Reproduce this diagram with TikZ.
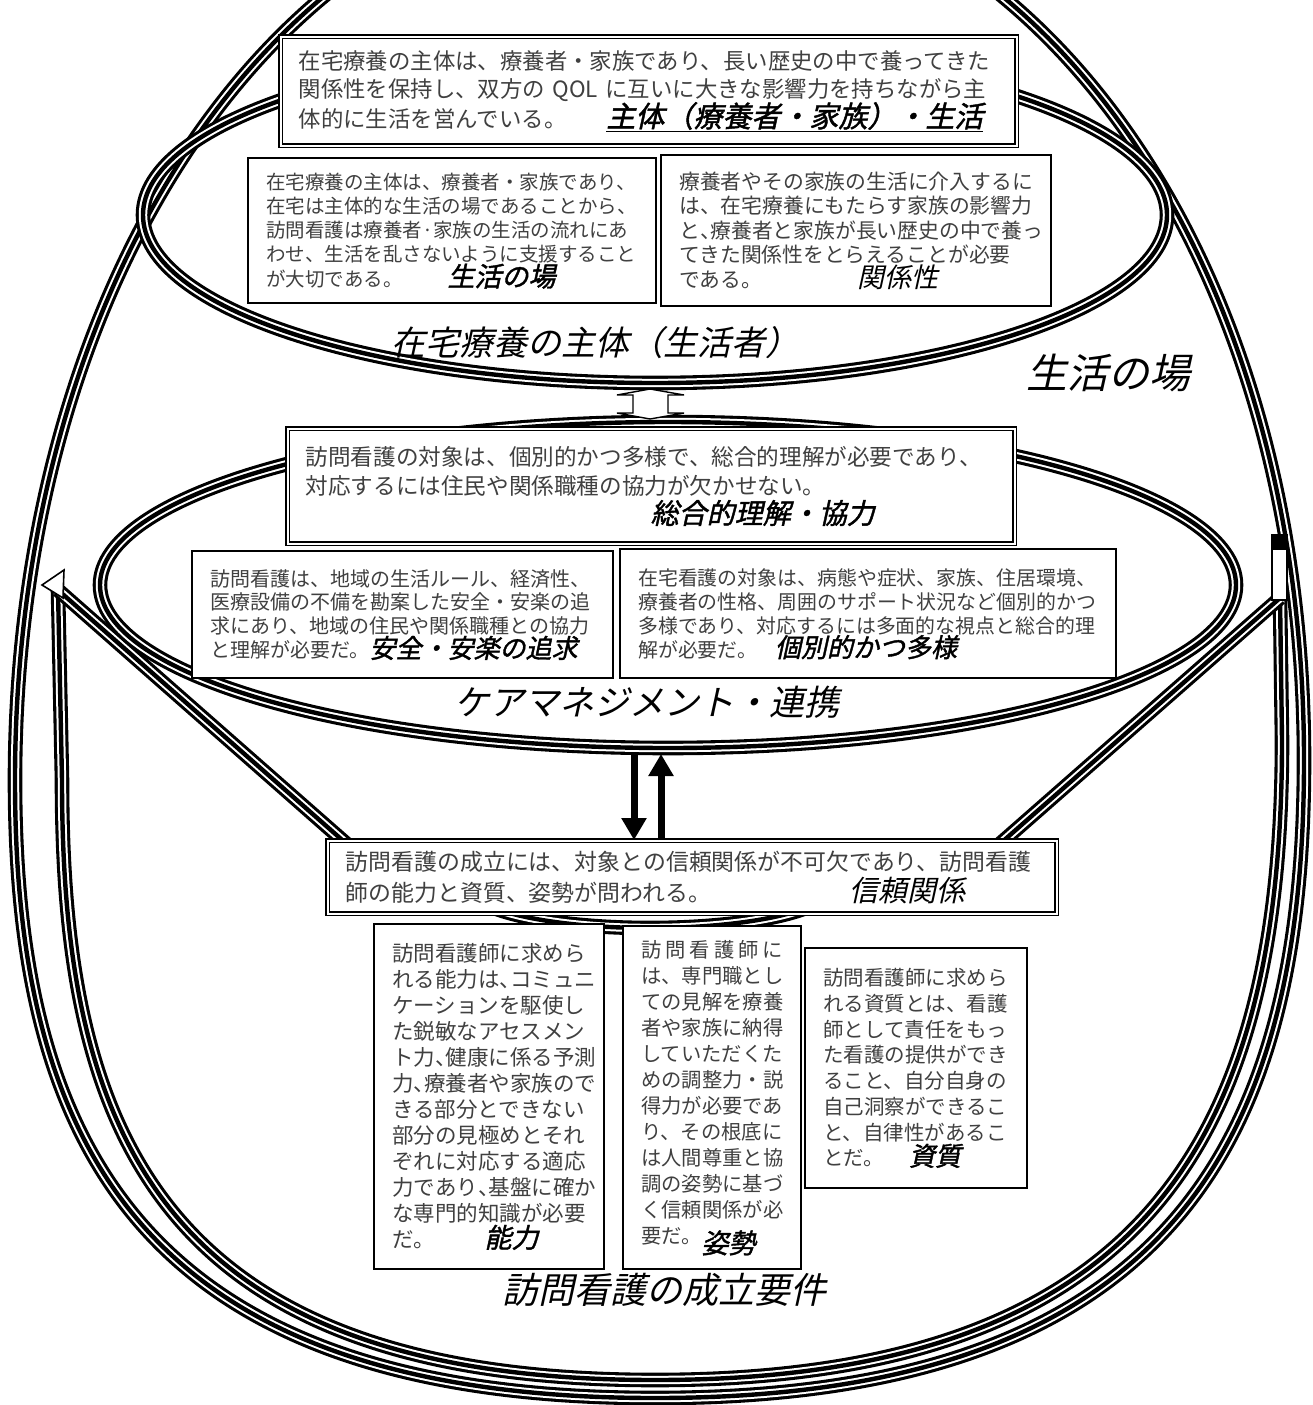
\documentclass[tikz,border=0pt]{standalone}
\usepackage{fontspec}
\usetikzlibrary{arrows.meta,backgrounds}

\newfontfamily\jpfont{Noto Sans CJK JP}
\newfontfamily\jpslant[FakeSlant=0.22]{Noto Sans CJK JP}
\newfontfamily\jpslantbold[FakeSlant=0.22,FakeBold=1.5]{Noto Sans CJK JP}

\NewDocumentCommand{\bodysize}{mm}{\jpfont\fontsize{#1}{#2}\selectfont}
\NewDocumentCommand{\boxtitle}{mO{\jpslantbold}m}{{#2\fontsize{#1}{#1}\selectfont\color{black}#3}}%chktex 1
\NewDocumentCommand{\halfcomma}{}{\makebox[0.5em][l]{、}}
\NewDocumentCommand{\carebox}{mmmmmO{boxframe}m}{%
\node[#6, text width=#4pt, minimum height=#5pt] (#1) at (#2,#3) {#7};%chktex 1
}

\tikzset{
  tripleline/.style={draw=white, line width=8.4pt,
    preaction={draw=black, line width=14.6pt},
    postaction={draw=black, line width=4.4pt}},
  boxframe/.style={draw=black, line width=2.4pt, fill=white, anchor=north west,
    align=left, inner xsep=18pt, inner ysep=0pt, text=black!75},
  dblframe/.style={boxframe, double=white, double distance=2pt, line width=1.5pt},
  bigarrow/.style={line width=7pt, -{Triangle[width=24pt,length=22pt]}},
  fieldtitle/.style={font=\jpslant\fontsize{#1}{#1}\selectfont, inner sep=0pt},
}

\begin{document}
\begin{tikzpicture}[x=1pt, y=-1pt]
        \useasboundingbox (0,0) rectangle (1313,1405);

        % Subject of home care.
        \carebox{shutai}{280}{36}{700}{109}[dblframe, font=\bodysize{22.4}{27.5}]{%
在宅療養の主体は、療養者・家族であり、長い歴史の中で養ってきた\\
関係性を保持し、双方の QOL に互いに大きな影響力を持ちながら主\\
体的に生活を営んでいる。\hspace{40pt}\boxtitle{29}{\underline{主体（療養者・家族）・生活}}}
        \carebox{basho}{247}{157}{372}{145}[boxframe, font=\bodysize{19.5}{24}]{%
在宅療養の主体は、療養者・家族であり、\\
在宅は主体的な生活の場であることから、\\
訪問看護は療養者·家族の生活の流れにあ\\
わせ、生活を乱さないように支援すること\\
が大切である。\hspace{45pt}\boxtitle{27}{生活の場}}
        \carebox{kankei}{660}{154}{354}{151}[boxframe, font=\bodysize{20.8}{24.5}]{%
療養者やその家族の生活に介入するに\\
は、在宅療養にもたらす家族の影響力\\
と\halfcomma 療養者と家族が長い歴史の中で養っ\\
てきた関係性をとらえることが必要\\
である。\hspace{95pt}\boxtitle{27}[\jpslant]{関係性}}

        % Care management.
        \carebox{sogo}{287}{428}{691}{115}[dblframe, font=\bodysize{22.6}{29}]{%
訪問看護の対象は、個別的かつ多様で、総合的理解が必要であり、\\
対応するには住民や関係職種の協力が欠かせない。\\
\hspace*{345pt}\boxtitle{28}{総合的理解・協力}}
        \carebox{anzen}{191}{550}{385}{127}[boxframe, font=\bodysize{20}{23.5}]{%
訪問看護は、地域の生活ルール、経済性、\\
医療設備の不備を勘案した安全・安楽の追\\
求にあり、地域の住民や関係職種との協力\\
と理解が必要だ。\boxtitle{26}{安全・安楽の追求}}
        \carebox{kobetsu}{619}{548}{460}{129}[boxframe, font=\bodysize{19.9}{24}]{%
在宅看護の対象は、病態や症状、家族、住居環境、\\
療養者の性格、周囲のサポート状況など個別的かつ\\
多様であり、対応するには多面的な視点と総合的理\\
解が必要だ。\hspace{18pt}\boxtitle{26}{個別的かつ多様}}

        % Requirements of visiting nursing.
        \carebox{shinrai}{327}{840}{693}{73}[dblframe, font=\bodysize{22.9}{31}]{%
訪問看護の成立には、対象との信頼関係が不可欠であり、訪問看護\\
師の能力と資質、姿勢が問われる。\hspace{138pt}\boxtitle{29}[\jpslant]{信頼関係}}
        \carebox{noryoku}{373}{923}{194}{345}[boxframe, font=\bodysize{21.5}{26}]{%
訪問看護師に求めら\\
れる能力は\halfcomma コミュニ\\
ケーションを駆使し\\
た鋭敏なアセスメン\\
ト力\halfcomma 健康に係る予測\\
力\halfcomma 療養者や家族ので\\
きる部分とできない\\
部分の見極めとそれ\\
ぞれに対応する適応\\
力であり\halfcomma 基盤に確か\\
な専門的知識が必要\\
だ。\hspace{50pt}\boxtitle{27}{能力}}
        \carebox{shisei}{622}{925}{142}{343}[boxframe, font=\bodysize{20.3}{26}]{%
\makebox[142pt][l]{訪\hfill 問\hfill 看\hfill 護\hfill 師\hfill に}\\
は、専門職とし\\
ての見解を療養\\
者や家族に納得\\
していただくた\\
めの調整力・説\\
得力が必要であ\\
り、その根底に\\
は人間尊重と協\\
調の姿勢に基づ\\
く信頼関係が必\\
要だ。\raisebox{-10pt}{\boxtitle{27}{姿勢}}}
        \carebox{shishitsu}{804}{947}{186}{240}[boxframe, font=\bodysize{20.5}{25.7}]{%
訪問看護師に求めら\\
れる資質とは、看護\\
師として責任をもっ\\
た看護の提供ができ\\
ること、自分自身の\\
自己洞察ができるこ\\
と、自律性があるこ\\
とだ。\hspace{25pt}\boxtitle{26}{資質}}

        % Field titles.
        \node[fieldtitle=34] (shutaititle) at (595,343) {在宅療養の主体（生活者）};
        \node[fieldtitle=41] (bashotitle) at (1108,373) {生活の場};
        \node[fieldtitle=35] (caretitle) at (647,702) {ケアマネジメント・連携};
        \node[fieldtitle=36] (seiritsutitle) at (664,1290) {訪問看護の成立要件};

        % Exchange.
        \coordinate (downarrow) at (634,754);
        \coordinate (uparrow) at (661,754);
        \draw[bigarrow] (downarrow) -- (downarrow |- shinrai.north);
        \draw[bigarrow] (uparrow |- shinrai.north) -- (uparrow);

        \begin{pgfonlayer}{background}
        % Outer field.
        \draw[tripleline] (655,1398) .. controls (1180,1398) and (1304,1130) .. (1304,760)
            .. controls (1304,250) and (1030,-130) .. (660,-130)
            .. controls (290,-130) and (15,270) .. (15,780)
            .. controls (15,1130) and (130,1398) .. cycle;

        % Requirements ground.
        \coordinate (leftmark) at (58,590);
        \coordinate (rightmark) at (1280,598);
        \draw[tripleline] (leftmark) -- (62,780) .. controls (62,1120) and (150,1380) .. (655,1380)
            .. controls (1160,1380) and (1282,1120) .. (1282,740) -- (rightmark);
        \draw[tripleline] (leftmark) -- ([xshift=22pt,yshift=-6pt]shinrai.north west);
        \draw[tripleline] (rightmark) -- ([xshift=-60pt,yshift=-6pt]shinrai.north east);
        \draw[line width=1.6pt, fill=white] (42,585) -- (64,570) -- (63,598) -- cycle;
        \draw[line width=1.6pt, fill=white] (1272,535) rectangle (1287,600);
        \fill (1272,535) rectangle (1287,550);

        % Ellipses.
        \draw[tripleline] (655,215) ellipse [x radius=512pt, y radius=168pt];
        \draw[tripleline] (668,585) ellipse [x radius=568pt, y radius=163pt];
        \draw[tripleline] (650,888) ellipse [x radius=180pt, y radius=40pt];

        % Link.
        \draw[line width=1.4pt, fill=white] (617,395) -- (650,389) -- (684,395) -- (668,395)
            -- (668,413) -- (684,413) -- (650,419) -- (617,413) -- (633,413) -- (633,395) -- cycle;
        \end{pgfonlayer}
    \end{tikzpicture}
\end{document}
